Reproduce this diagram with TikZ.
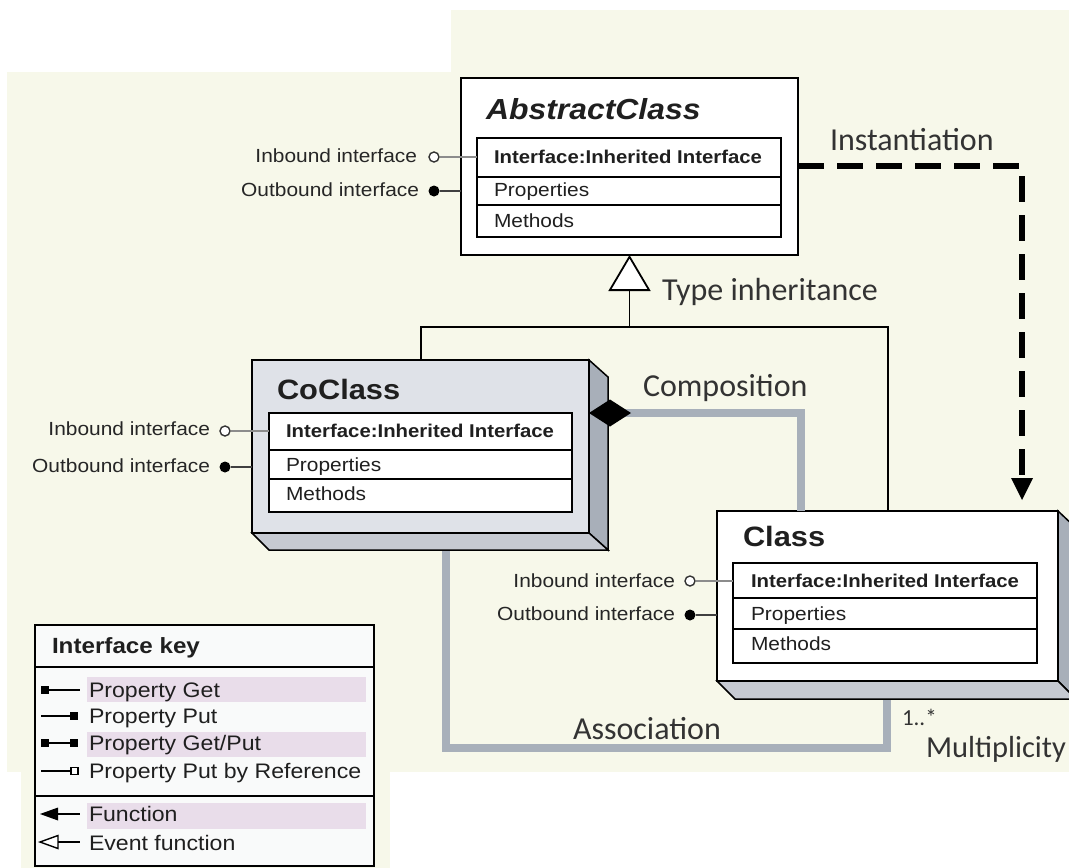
\documentclass[tikz,border=0pt]{standalone}
\usepackage{fontspec}
\usetikzlibrary{arrows.meta,calc}
\newfontfamily\arialf{Liberation Sans}[FakeStretch=1.1]
\newfontfamily\gillf{Carlito}
\newcommand\fsz[1]{\fontsize{#1}{#1}\selectfont}
\definecolor{cream}{RGB}{247,248,234}
\definecolor{legendfill}{RGB}{249,250,250}
\definecolor{keypink}{RGB}{233,221,234}
\definecolor{cofront}{RGB}{223,226,232}
\definecolor{sideface}{RGB}{168,175,185}
\definecolor{bottomface}{RGB}{198,202,210}
\definecolor{linegray}{RGB}{168,176,186}
\begin{document}
\begin{tikzpicture}[x=1pt,y=-1pt,line join=miter,
  box/.style={draw=black,line width=1.8pt,inner sep=0pt,outer sep=0pt,anchor=north west},
  face/.style={draw=black,line width=1.5pt},
  rowtxt/.style={inner sep=0pt,outer sep=0pt,anchor=base west,text=black!88,font=\arialf\fsz{19}},
  rowbold/.style={rowtxt,font=\arialf\bfseries\fsz{18.5}},
  titletxt/.style={inner sep=0pt,outer sep=0pt,anchor=base west,text=black!88,font=\arialf\bfseries\fsz{28}},
  lbl/.style={inner sep=0pt,outer sep=0pt,anchor=base east,font=\arialf\fsz{19},text=black!85},
  gl/.style={inner sep=0pt,outer sep=0pt,anchor=base west,font=\gillf\fsz{32},text=black!80},
  keytxt/.style={inner sep=0pt,outer sep=0pt,anchor=base west,font=\arialf\fsz{21},text=black!88},
  grayline/.style={draw=linegray,line width=7.5pt},
  inport/.style={circle,draw=black!80,fill=white,line width=1.4pt,minimum size=10pt,inner sep=0pt},
  outport/.style={circle,fill=black,minimum size=11pt,inner sep=0pt},
  inwire/.style={draw=black!45,line width=1.8pt},
  outwire/.style={draw=black!75,line width=1.8pt},
  thinline/.style={draw=black,line width=1.8pt},
  keyline/.style={draw=black,line width=1.8pt},
]
\useasboundingbox (0,0) rectangle (1069,868);
\clip (0,0) rectangle (1069,868);
% background
\fill[cream] (451,10) rectangle (1069,772);
\fill[cream] (7,72) rectangle (451,772);
\fill[cream] (21,772) rectangle (390,868);

% association (drawn under the boxes)
\coordinate (asL) at (446,748);
\coordinate (asR) at (887,748);
\coordinate (coBase) at (446,533);
\coordinate (clsBase) at (887,681);
\draw[grayline] (coBase) -- (asL) -- (asR) -- (clsBase);

% ---------- AbstractClass ----------
\node[box,fill=white,minimum width=337pt,minimum height=177pt] (abs) at (461,78) {};
\node[titletxt,font=\arialf\bfseries\itshape\fsz{29}] (absT) at (486,119.3) {AbstractClass};
\node[box,fill=white,minimum width=304pt,minimum height=39pt] (absIf) at (477,138) {};
\node[box,fill=white,minimum width=304pt,minimum height=28pt] (absPr) at (477,177) {};
\node[box,fill=white,minimum width=304pt,minimum height=32pt] (absMe) at (477,205) {};
\node[rowbold] (absIfT) at (494,163.5) {Interface:Inherited Interface};
\node[rowtxt] (absPrT) at (494,196.7) {Properties};
\node[rowtxt] (absMeT) at (494,227) {Methods};

% ---------- CoClass ----------
\draw[face,fill=sideface] (589,360) -- (608,377) -- (608,550) -- (589,533) -- cycle;
\draw[face,fill=bottomface] (252,533) -- (589,533) -- (608,550) -- (269,550) -- cycle;
\node[box,fill=cofront,minimum width=337pt,minimum height=173pt] (co) at (252,360) {};
\node[titletxt] (coT) at (277,399) {CoClass};
\node[box,fill=white,minimum width=303pt,minimum height=37pt] (coIf) at (269,413) {};
\node[box,fill=white,minimum width=303pt,minimum height=29pt] (coPr) at (269,450) {};
\node[box,fill=white,minimum width=303pt,minimum height=33pt] (coMe) at (269,479) {};
\node[rowbold] (coIfT) at (286,437) {Interface:Inherited Interface};
\node[rowtxt] (coPrT) at (286,471.7) {Properties};
\node[rowtxt] (coMeT) at (286,500.7) {Methods};

% ---------- Class ----------
\draw[face,fill=sideface] (1058,511) -- (1076,528) -- (1076,699) -- (1058,681) -- cycle;
\draw[face,fill=bottomface] (717,681) -- (1058,681) -- (1076,699) -- (735,699) -- cycle;
\node[box,fill=white,minimum width=341pt,minimum height=170pt] (cls) at (717,511) {};
\node[titletxt] (clsT) at (743,546.7) {Class};
\node[box,fill=white,minimum width=304pt,minimum height=35pt] (clsIf) at (733,563) {};
\node[box,fill=white,minimum width=304pt,minimum height=31pt] (clsPr) at (733,598) {};
\node[box,fill=white,minimum width=304pt,minimum height=34pt] (clsMe) at (733,629) {};
\node[rowbold] (clsIfT) at (751,587) {Interface:Inherited Interface};
\node[rowtxt] (clsPrT) at (751,620) {Properties};
\node[rowtxt] (clsMeT) at (751,650.7) {Methods};

% ---------- interfaces ----------
\node[inport] (absIn) at (434,157) {};
\node[outport] (absOut) at (434,191) {};
\draw[inwire] (absIn.east) -- (absIn -| absIf.west);
\draw[outwire] (absOut.east) -- (absOut -| abs.west);
\node[lbl] (absInL) at (417,162.3) {Inbound interface};
\node[lbl] (absOutL) at (419,196.7) {Outbound interface};

\node[inport] (coIn) at (225,431) {};
\node[outport] (coOut) at (225,467) {};
\draw[inwire] (coIn.east) -- (coIn -| coIf.west);
\draw[outwire] (coOut.east) -- (coOut -| co.west);
\node[lbl] (coInL) at (210,435) {Inbound interface};
\node[lbl] (coOutL) at (210,472) {Outbound interface};

\node[inport] (clsIn) at (690,581) {};
\node[outport] (clsOut) at (690,615) {};
\draw[inwire] (clsIn.east) -- (clsIn -| clsIf.west);
\draw[outwire] (clsOut.east) -- (clsOut -| cls.west);
\node[lbl] (clsInL) at (675,587) {Inbound interface};
\node[lbl] (clsOutL) at (675,620.7) {Outbound interface};

% ---------- type inheritance ----------
\coordinate (inhM) at (629.5,327);
\coordinate (inhL) at (421,327);
\coordinate (inhR) at (888,327);
\draw[thinline] (co.north -| inhL) -- (inhL) -- (inhR) -- (cls.north -| inhR);
\draw[thinline,-{Triangle[width=42pt,length=36pt,fill=white,line width=1.8pt]}] (inhM) -- (abs.south);
\node[gl] (inhLab) at (662,300) {Type inheritance};

% ---------- instantiation ----------
\coordinate (instC) at (1022,166);
\draw[line width=5.5pt,dash pattern=on 26pt off 13pt,shorten >=11pt,
  -{Triangle[width=22pt,length=22pt,line width=0pt]}]
  (abs.east |- instC) -- (instC) -- (cls.north -| instC);
\node[gl] (instLab) at (830,150) {Instantiation};

% ---------- composition ----------
\coordinate (compC) at (801,413);
\draw[grayline,{Diamond[length=42pt,width=27pt,line width=0pt,color=black,fill=black]}-]
  (co.east |- compC) -- (compC) -- (cls.north -| compC);
\node[gl] (compLab) at (643,396.7) {Composition};

% ---------- association labels ----------
\node[gl] (asLab) at (573,739.3) {Association};
\node[gl,font=\gillf\fsz{23}] (multNum) at (902,725) {1..*};
\node[gl,font=\gillf\fsz{30.5}] (multLab) at (926,757) {Multiplicity};

% ---------- interface key ----------
\node[box,fill=legendfill,minimum width=339pt,minimum height=241pt] (key) at (35,625) {};
\draw[thinline] (35,667) -- (374,667);
\draw[thinline] (35,796) -- (374,796);
\node[keytxt,font=\arialf\bfseries\fsz{22}] (keyT) at (52,653) {Interface key};
\fill[keypink] (87,677) rectangle (366,702);
\fill[keypink] (87,732) rectangle (366,757);
\fill[keypink] (87,803) rectangle (366,829);
% Property Get
\fill (41,686) rectangle (49,694);
\draw[keyline] (49,690) -- (80,690);
% Property Put
\draw[keyline] (41,716) -- (71,716);
\fill (70,712) rectangle (78,720);
% Property Get/Put
\fill (41,739) rectangle (49,747);
\draw[keyline] (49,743) -- (71,743);
\fill (70,739) rectangle (78,747);
% Property Put by Reference
\draw[keyline] (41,771) -- (71,771);
\draw[line width=1.2pt,fill=white] (71,767.5) rectangle (78,774.5);
% Function
\fill (40,814) -- (58,807.5) -- (58,820.5) -- cycle;
\draw[keyline] (57,814) -- (80,814);
% Event function
\draw[line width=1.4pt,fill=white] (40,842) -- (58,835.5) -- (58,848.5) -- cycle;
\draw[keyline] (58,842) -- (80,842);
\node[keytxt] (k1) at (89,697.3) {Property Get};
\node[keytxt] (k2) at (89,723.3) {Property Put};
\node[keytxt] (k3) at (89,750) {Property Get/Put};
\node[keytxt] (k4) at (89,778.3) {Property Put by Reference};
\node[keytxt] (k5) at (89,821.7) {Function};
\node[keytxt] (k6) at (89,850) {Event function};
\end{tikzpicture}
\end{document}
